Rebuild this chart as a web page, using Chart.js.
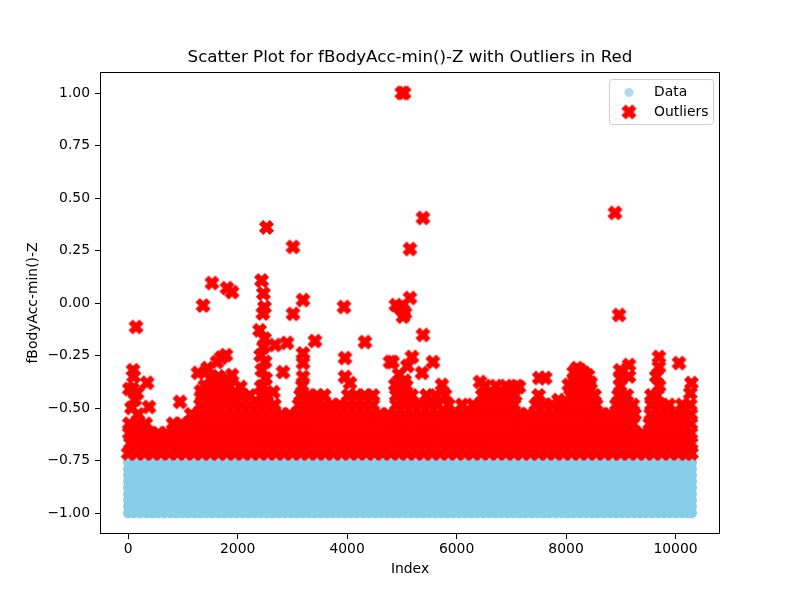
<!DOCTYPE html>
<html>
<head>
<meta charset="utf-8">
<script src="https://cdn.jsdelivr.net/npm/chart.js@4.4.1/dist/chart.umd.min.js"></script>
<style>
body{margin:0;background:#fff}
canvas{display:block}
</style>
</head>
<body>
<canvas id="chart" width="800" height="600"></canvas>
<script>
// tick labels
let xTicks = [0, 2000, 4000, 6000, 8000, 10000]
let yTicks = [-1.0, -0.75, -0.5, -0.25, 0.0, 0.25, 0.5, 0.75, 1.0]

// blue "Data" band: sample positions and levels
let dataIdx = [0,110,220,330,440,550,660,770,880,990,1100,1210,1320,1430,1540,1650,1760,1870,1980,2090,2200,2310,2420,2530,2640,2750,2860,2970,3080,3190,3300,3410,3520,3630,3740,3850,3960,4070,4180,4290,4400,4510,4620,4730,4840,4950,5060,5170,5280,5390,5500,5610,5720,5830,5940,6050,6160,6270,6380,6490,6600,6710,6820,6930,7040,7150,7260,7370,7480,7590,7700,7810,7920,8030,8140,8250,8360,8470,8580,8690,8800,8910,9020,9130,9240,9350,9460,9570,9680,9790,9900,10010,10120,10230,10298]
let dataLevels = [-1.0, -0.97, -0.94, -0.91, -0.88, -0.85, -0.82, -0.79, -0.76]

// red outlier band, one array of indices per level
let bandLevels = [-0.716, -0.668, -0.62, -0.575, -0.53, -0.485, -0.44, -0.395]
let bandRow1 = [0,150,300,450,600,750,900,1050,1200,1350,1500,1650,1800,1950,2100,2250,2400,2550,2700,2850,3000,3150,3300,3450,3600,3750,3900,4050,4200,4350,4500,4650,4800,4950,5100,5250,5400,5550,5700,5850,6000,6150,6300,6450,6600,6750,6900,7050,7200,7350,7500,7650,7800,7950,8100,8250,8400,8550,8700,8850,9000,9150,9300,9450,9600,9750,9900,10050,10200,10290]
let bandRow2 = [40,190,340,490,640,790,940,1090,1240,1390,1540,1690,1840,1990,2140,2290,2440,2590,2740,2890,3040,3190,3340,3490,3640,3790,3940,4090,4240,4390,4540,4690,4840,4990,5140,5290,5440,5590,5740,5890,6040,6190,6340,6490,6640,6790,6940,7090,7240,7390,7540,7690,7840,7990,8140,8290,8440,8590,8740,8890,9040,9190,9340,9490,9640,9790,9940,10090,10240,10285]
let bandRow3 = [20,100,250,400,550,700,850,1000,1150,1300,1450,1600,1750,1900,2050,2200,2350,2500,2650,2800,2950,3100,3250,3400,3550,3700,3850,4000,4150,4300,4450,4600,4750,4900,5050,5200,5350,5500,5650,5800,5950,6100,6250,6400,6550,6700,6850,7000,7150,7300,7450,7600,7750,7900,8050,8200,8350,8500,8650,8800,8950,9100,9250,9400,9550,9700,9850,10000,10150,10280]
let bandRow4 = [20,170,320,820,970,1120,1270,1420,1570,1720,1870,2020,2170,2320,2470,2620,2770,2920,3070,3220,3370,3520,3670,3820,3970,4120,4270,4420,4570,4720,4870,5020,5170,5320,5470,5620,5770,5920,6070,6220,6370,6520,6670,6820,6970,7120,7270,7420,7570,7720,7870,8020,8170,8320,8470,8620,8770,8920,9070,9220,9530,9680,9830,9980,10130,10280]
let bandRow5 = [1150,1300,1450,1600,1750,1900,2050,2200,2350,2500,2650,2800,2950,3100,3250,3400,3550,3700,3850,4000,4150,4300,4450,4600,4750,4900,5050,5200,5350,5500,5650,5800,5950,6100,6250,6400,6550,6700,6850,7000,7150,7300,7450,7600,7750,7900,8050,8200,8350,8500,8650,8800,8950,9100,9250,9550,9700,9850,10000,10150,10280]
let bandRow6 = [1320,1470,1620,1770,1920,2070,2220,2370,2520,2670,3120,3270,3420,3570,3720,3870,4020,4170,4320,4470,4900,5050,5200,5350,5500,5650,5850,6100,6300,6450,6600,6750,6900,7050,7450,7600,7750,7870,7970,8100,8250,8400,8550,8920,9070,9220,9560,9720,9880,10120,10270]
let bandRow7 = [1350,1500,1650,1800,1950,2080,2220,2430,2530,3150,3300,3450,3580,4020,4170,4320,4470,4900,5050,5180,5450,5620,6470,6620,6770,6920,7070,7500,8080,8230,8380,8520,8960,9110,9660]
let bandRow8 = [1400,1550,1700,1850,2460,3180,4960,5080,6520,6720,6900,7100,8120,8270,8420,8990,9700]

// scattered outliers above the band
let spotIdx = [143,90,100,20,80,160,120,345,380,60,180,946,1275,1367,1531,1805,1897,1622,1787,1700,1897,1450,1500,1650,1800,1330,2050,2527,2436,2470,2490,2460,2400,2490,2470,2420,2500,2440,2510,2430,2682,2650,2901,2828,3011,3011,3194,3194,3194,3194,3413,3961,3961,4052,3943,4326,4783,5000,5040,5148,5386,4890,5148,5057,5020,5020,4960,5386,4830,5185,5568,5368,5733,5788,4950,4880,5050,5100,4990,6427,6995,7140,7510,7620,7860,8200,8330,8140,8260,8400,8150,8300,8450,8050,8894,8968,8986,9150,8990,9150,9697,9697,9650,10063,10290,10270,9560]
let spotVal = [-0.114,-0.32,-0.35,-0.41,-0.41,-0.43,-0.46,-0.38,-0.495,-0.50,-0.53,-0.471,-0.333,-0.012,0.095,0.071,0.052,-0.281,-0.248,-0.26,-0.343,-0.31,-0.36,-0.35,-0.36,-0.42,-0.40,0.36,0.107,0.045,-0.02,-0.05,-0.13,-0.17,-0.21,-0.25,-0.28,-0.32,-0.36,-0.40,-0.20,-0.424,-0.19,-0.329,-0.052,0.267,0.014,-0.24,-0.286,-0.352,-0.181,-0.262,-0.352,-0.381,-0.019,-0.186,-0.281,1.0,1.0,0.257,0.405,-0.01,0.024,-0.048,-0.035,-0.065,-0.02,-0.152,-0.281,-0.257,-0.281,-0.333,-0.39,-0.438,-0.34,-0.39,-0.37,-0.30,-0.43,-0.376,-0.41,-0.40,-0.357,-0.357,-0.462,-0.31,-0.333,-0.33,-0.32,-0.345,-0.37,-0.37,-0.38,-0.39,0.429,-0.057,-0.32,-0.295,-0.36,-0.35,-0.257,-0.305,-0.35,-0.286,-0.381,-0.43,-0.44]

let font = "DejaVu Sans"

// build point lists
let dataPoints = []
dataLevels.forEach(lv => {
dataIdx.forEach(i => dataPoints.push({x:i, y:lv}))
})
let bandRows = [bandRow1,bandRow2,bandRow3,bandRow4,bandRow5,bandRow6,bandRow7,bandRow8]
let outPoints = []
bandRows.forEach((row,k) => {
row.forEach(i => outPoints.push({x:i, y:bandLevels[k]}))
})
spotIdx.forEach((i,k) => outPoints.push({x:i, y:spotVal[k]}))

// filled X marker like matplotlib's "X"
function makeCross(size){
let c = document.createElement("canvas")
let d = Math.ceil(size + 3)
c.width = d
c.height = d
let g = c.getContext("2d")
let u = size / 6
let pts = [[-1,-3],[1,-3],[1,-1],[3,-1],[3,1],[1,1],[1,3],[-1,3],[-1,1],[-3,1],[-3,-1],[-1,-1]]
g.translate(d/2, d/2)
g.rotate(Math.PI/4)
g.beginPath()
pts.forEach((p,i) => i ? g.lineTo(p[0]*u, p[1]*u) : g.moveTo(p[0]*u, p[1]*u))
g.closePath()
g.fillStyle = "#ff0000"
g.fill()
g.strokeStyle = "#ff0000"
g.lineWidth = 1.4
g.stroke()
return c
}
let cross = makeCross(13.9)

// frame, title, axis labels and legend
let decor = {
id: "decor",
afterDraw(chart){
let ctx = chart.ctx
let a = chart.chartArea
ctx.save()
ctx.strokeStyle = "#000"
ctx.lineWidth = 1
ctx.strokeRect(a.left + 0.5, a.top + 0.5, a.right - a.left - 1, a.bottom - a.top - 1)
ctx.fillStyle = "#000"
ctx.textAlign = "center"
ctx.textBaseline = "middle"
ctx.font = "16.7px " + font
ctx.fillText("Scatter Plot for fBodyAcc-min()-Z with Outliers in Red", (a.left + a.right)/2, 58)
ctx.font = "13.9px " + font
ctx.fillText("Index", (a.left + a.right)/2, 569)
ctx.save()
ctx.translate(33, (a.top + a.bottom)/2)
ctx.rotate(-Math.PI/2)
ctx.fillText("fBodyAcc-min()-Z", 0, 0)
ctx.restore()
// legend box
let bx = 609.5, by = 79.5, bw = 104, bh = 45, r = 3
ctx.beginPath()
ctx.moveTo(bx + r, by)
ctx.arcTo(bx + bw, by, bx + bw, by + bh, r)
ctx.arcTo(bx + bw, by + bh, bx, by + bh, r)
ctx.arcTo(bx, by + bh, bx, by, r)
ctx.arcTo(bx, by, bx + bw, by, r)
ctx.closePath()
ctx.fillStyle = "rgba(255,255,255,0.8)"
ctx.fill()
ctx.strokeStyle = "#cccccc"
ctx.stroke()
ctx.beginPath()
ctx.arc(629, 92.5, 4.6, 0, Math.PI*2)
ctx.fillStyle = "rgba(135,206,235,0.7)"
ctx.fill()
ctx.drawImage(cross, 629 - cross.width/2, 112 - cross.height/2)
ctx.fillStyle = "#000"
ctx.textAlign = "left"
let ds = chart.data.datasets
ctx.fillText(ds[0].label, 654, 92)
ctx.fillText(ds[1].label, 654, 112)
ctx.restore()
}
}

let tickFont = {family: font, size: 13.9}

new Chart(document.getElementById("chart"), {
type: "scatter",
data: {
datasets: [
{label: "Data", data: dataPoints, backgroundColor: "#87ceeb", borderWidth: 0, pointRadius: 5.2, order: 2},
{label: "Outliers", data: outPoints, pointStyle: cross, pointRadius: 7, order: 1}
]
},
options: {
responsive: false,
animation: false,
devicePixelRatio: 1,
events: [],
layout: {padding: {left: 0, right: 80, top: 72, bottom: 0}},
plugins: {legend: {display: false}, title: {display: false}, tooltip: {enabled: false}},
scales: {
x: {
type: "linear", min: -515, max: 10813,
afterBuildTicks: s => { s.ticks = xTicks.map(v => ({value: v})) },
afterFit: s => { s.height = 66 },
ticks: {callback: v => String(v), font: tickFont, color: "#000", padding: 2, maxRotation: 0, autoSkip: false},
grid: {drawOnChartArea: false, drawTicks: true, tickLength: 5, color: "#000", lineWidth: 1},
border: {display: false}
},
y: {
type: "linear", min: -1.1, max: 1.1,
afterBuildTicks: s => { s.ticks = yTicks.map(v => ({value: v})) },
afterFit: s => { s.width = 100 },
ticks: {callback: v => v.toFixed(2).replace("-", "\u2212"), font: tickFont, color: "#000", padding: 5, autoSkip: false},
grid: {drawOnChartArea: false, drawTicks: true, tickLength: 5, color: "#000", lineWidth: 1},
border: {display: false}
}
}
},
plugins: [decor]
})
</script>
</body>
</html>
